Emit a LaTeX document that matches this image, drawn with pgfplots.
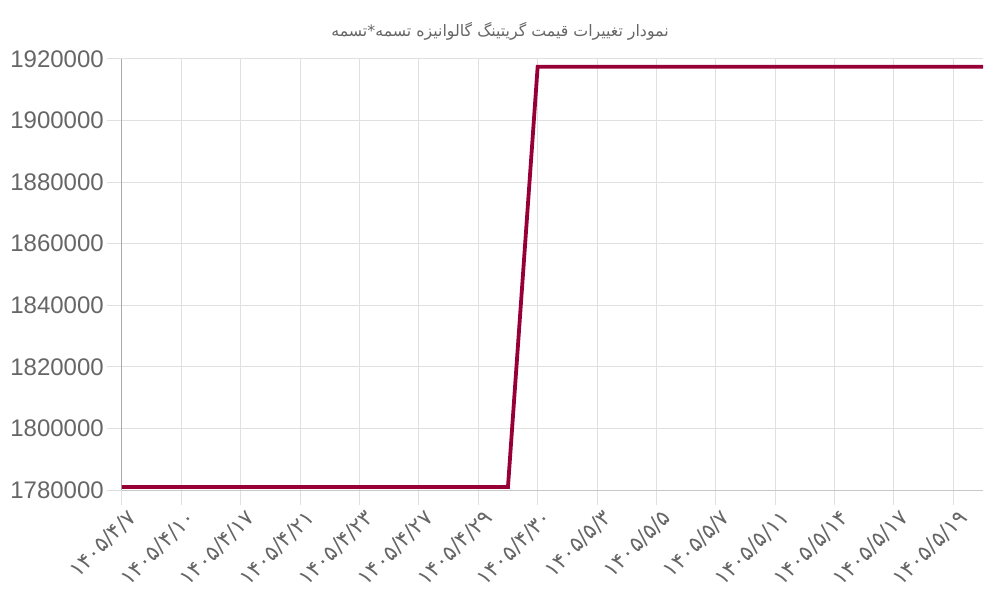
\documentclass[border=0pt]{standalone}
\usepackage{fontspec}
\setmainfont{Liberation Sans}
\newfontfamily\arabicfont[Script=Arabic]{DejaVu Sans}
\TeXXeTstate=1
\usepackage{pgfplots}
\pgfplotsset{compat=1.18}

\definecolor{linecol}{RGB}{150,0,55}
\definecolor{gridcol}{RGB}{224,224,224}
\definecolor{baseline}{RGB}{200,200,200}
\definecolor{yaxcol}{RGB}{170,170,170}
\definecolor{labcol}{RGB}{102,102,102}

\begin{document}
\begin{tikzpicture}
\useasboundingbox (-122pt,-110pt) rectangle (878pt,490pt);
\begin{axis}[
    at={(0pt,0pt)}, anchor=south west,
    scale only axis,
    width=861pt, height=431pt,
    xmin=0, xmax=29,
    ymin=1780000, ymax=1920000,
    ytick distance=20000,
    scaled y ticks=false,
    axis x line*=bottom,
    axis y line*=left,
    x axis line style={-, draw=baseline, line width=1pt},
    y axis line style={-, draw=yaxcol, line width=1pt},
    tick align=outside,
    major tick length=15pt,
    tick style={draw=gridcol, line width=1pt},
    grid=major,
    major grid style={draw=gridcol, line width=1pt},
    xtick={0,2,...,28},
    xticklabels={۱۴۰۵/۴/۷,۱۴۰۵/۴/۱۰,۱۴۰۵/۴/۱۷,۱۴۰۵/۴/۲۱,۱۴۰۵/۴/۲۳,۱۴۰۵/۴/۲۷,۱۴۰۵/۴/۲۹,۱۴۰۵/۴/۳۰,۱۴۰۵/۵/۳,۱۴۰۵/۵/۵,۱۴۰۵/۵/۷,۱۴۰۵/۵/۱۱,۱۴۰۵/۵/۱۴,۱۴۰۵/۵/۱۷,۱۴۰۵/۵/۱۹},
    xticklabel style={font=\arabicfont\fontsize{21.5}{24}\selectfont, text=labcol,
        rotate=45, anchor=north east, inner sep=0pt, xshift=1pt, yshift=-5pt},
    yticklabel style={font=\fontsize{24}{28}\selectfont, text=labcol,
        /pgf/number format/fixed, /pgf/number format/1000 sep={},
        /pgf/number format/assume math mode=true, inner sep=0pt, xshift=-3pt},
    clip=false,
]
\addplot[linecol, line width=3.8pt, no marks, line join=miter] coordinates {
    (0,1781000) (1,1781000) (2,1781000) (3,1781000) (4,1781000)
    (5,1781000) (6,1781000) (7,1781000) (8,1781000) (9,1781000)
    (10,1781000) (11,1781000) (12,1781000) (13,1781000)
    (14,1917500) (15,1917500) (16,1917500) (17,1917500) (18,1917500)
    (19,1917500) (20,1917500) (21,1917500) (22,1917500) (23,1917500)
    (24,1917500) (25,1917500) (26,1917500) (27,1917500) (28,1917500)
    (29,1917500)
};
\end{axis}
\node[text=labcol, font=\arabicfont\fontsize{15.8}{19}\selectfont] at (378pt,459pt)
    {\beginR نمودار تغییرات قیمت گریتینگ گالوانیزه تسمه*تسمه\endR};
\end{tikzpicture}
\end{document}
